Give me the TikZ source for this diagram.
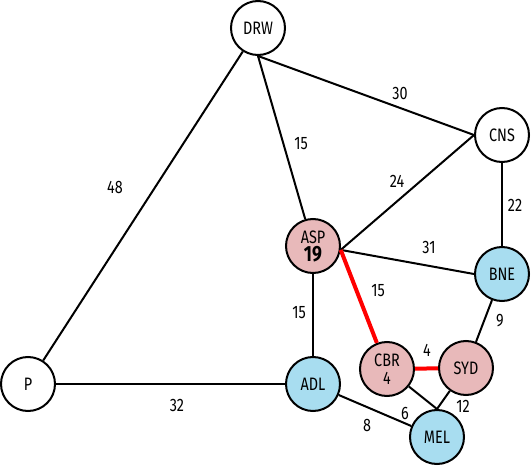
\documentclass[tikz,border=0pt]{standalone}
\usepackage{fontspec}
\setmainfont{Fira Sans}[FakeStretch=0.8]
\definecolor{cityred}{HTML}{E8B9BA}
\definecolor{cityblue}{HTML}{A8DDF0}
\tikzstyle{city} = [circle, draw, line width=1pt, minimum size=27pt, inner sep=0pt, align=center, fill=white]
\tikzstyle{visited} = [city, fill=cityred]
\tikzstyle{frontier} = [city, fill=cityblue]
\tikzstyle{road} = [line width=1pt]
\tikzstyle{best} = [line width=2pt, red]
\tikzstyle{dist} = [inner sep=1pt]

\begin{document}
\begin{tikzpicture}[x=0.5pt, y=-0.5pt, font=\fontsize{9}{10}\selectfont]
\useasboundingbox (0,0) rectangle (531,471);
% cities
\node[city] (DRW) at (258,28) {DRW};
\node[city] (CNS) at (502,135) {CNS};
\node[visited] (ASP) at (313,246) {ASP\\[-1pt]{\fontsize{11}{12}\selectfont\bfseries 19}};
\node[frontier] (BNE) at (502,274) {BNE};
\node[city] (P) at (28,384) {P};
\node[frontier] (ADL) at (313,384) {ADL};
\node[visited] (CBR) at (387,369) {CBR\\[-1pt]4};
\node[visited] (SYD) at (466,368) {SYD};
\node[frontier] (MEL) at (437,437) {MEL};
% roads
\draw[road] (DRW) -- (P);
\draw[road] (DRW.south) -- (CNS.west);
\draw[road] (DRW.south) -- (ASP);
\draw[road] (ASP.-8) -- (CNS.west);
\draw[road] (CNS) -- (BNE);
\draw[road] (ASP.-8) -- (BNE.west);
\draw[road] (ASP) -- (ADL);
\draw[road] (P) -- (ADL);
\draw[road] (BNE) -- (SYD);
\draw[road] (ADL) -- (MEL);
\draw[road] (CBR) -- (MEL.north);
\draw[road] (SYD) -- (MEL.north);
\draw[best] (ASP.-8) -- (CBR);
\draw[best] (CBR) -- (SYD);
% distances
\node[dist] (d48) at (115,187) {48};
\node[dist] (d15a) at (301,144) {15};
\node[dist] (d30) at (400,93) {30};
\node[dist] (d24) at (397,181) {24};
\node[dist] (d22) at (515,205) {22};
\node[dist] (d31) at (429,247) {31};
\node[dist] (d15b) at (299,313) {15};
\node[dist] (d15c) at (378,291) {15};
\node[dist] (d9) at (500,321) {9};
\node[dist] (d4) at (427,350) {4};
\node[dist] (d32) at (177,405) {32};
\node[dist] (d6) at (405,413) {6};
\node[dist] (d12) at (463,406) {12};
\node[dist] (d8) at (367,425) {8};
\end{tikzpicture}
\end{document}
